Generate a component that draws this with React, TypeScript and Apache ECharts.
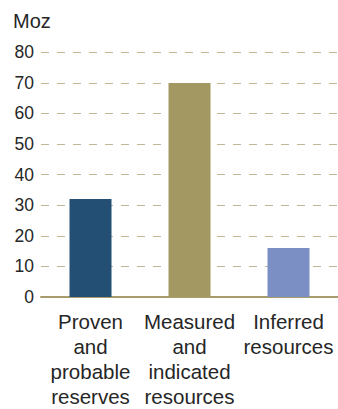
import React, { useEffect, useRef } from "react";
import * as echarts from "echarts";

const categories = [
  "Proven\nand\nprobable\nreserves",
  "Measured\nand\nindicated\nresources",
  "Inferred\nresources",
];
const values = [32, 70, 16];
const barColors = ["#234f74", "#a49862", "#7c8fc4"];
const unitLabel = "Moz";

const FONT = "'Liberation Sans', Arial, sans-serif";

export default function App() {
  const ref = useRef<HTMLDivElement>(null);

  useEffect(() => {
    if (!ref.current) return;
    const chart = echarts.init(ref.current, null, { renderer: "svg" });
    chart.setOption({
      animation: false,
      backgroundColor: "#ffffff",
      grid: { left: 41, right: -3, top: 52.3, bottom: 110, containLabel: false },
      graphic: [
        {
          type: "text",
          left: 13,
          top: 11,
          style: { text: unitLabel, font: `20px ${FONT}`, fill: "#262626" },
        },
      ],
      xAxis: {
        type: "category",
        data: categories,
        axisTick: { show: false },
        axisLine: { show: true, lineStyle: { color: "#a89c6c", width: 2 } },
        axisLabel: {
          color: "#262626",
          fontFamily: FONT,
          fontSize: 20.5,
          lineHeight: 25,
          margin: 12,
          interval: 0,
        },
      },
      yAxis: {
        type: "value",
        min: 0,
        max: 80,
        interval: 10,
        axisLine: { show: false },
        axisTick: { show: false },
        axisLabel: {
          color: "#262626",
          fontFamily: FONT,
          fontSize: 17.5,
          margin: 7,
        },
        splitLine: {
          show: true,
          lineStyle: { color: "#c2b994", width: 1.2, type: [8, 8] },
        },
      },
      series: [
        {
          type: "bar",
          barWidth: 42,
          data: values.map((v, i) => ({ value: v, itemStyle: { color: barColors[i] } })),
        },
      ],
    });
    return () => chart.dispose();
  }, []);

  return (
    <div
      ref={ref}
      style={{ position: "absolute", left: 0, top: 0, width: 338, height: 409 }}
    />
  );
}
